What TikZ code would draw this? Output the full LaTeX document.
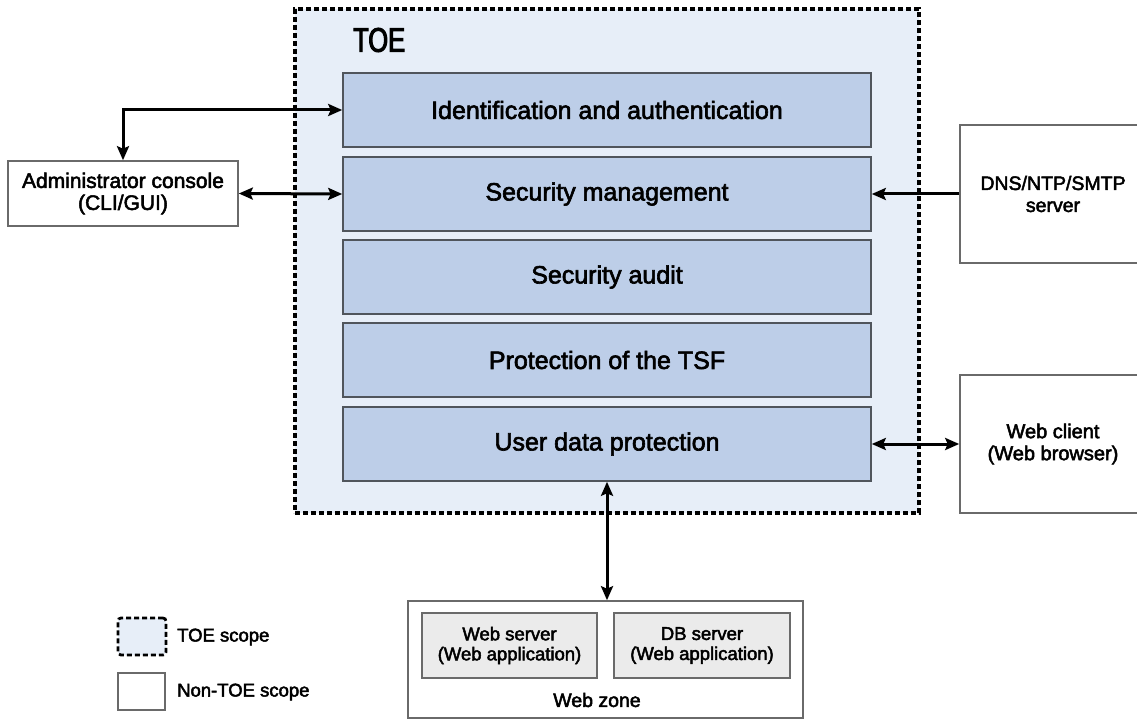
\documentclass[tikz,border=0pt]{standalone}
\usepackage{fontspec}
\setmainfont{Liberation Sans}[FakeBold=2.5]
\newfontfamily\condfont{Liberation Sans}[FakeStretch=0.75,FakeBold=3]
\usetikzlibrary{arrows.meta}
\definecolor{toebg}{HTML}{E7EEF8}
\definecolor{funcfill}{HTML}{BDCEE8}
\definecolor{funcborder}{HTML}{50555C}
\definecolor{extborder}{HTML}{6A6A6A}
\definecolor{srvfill}{HTML}{EBEBEB}
\begin{document}
\begin{tikzpicture}[x=1pt,y=-1pt,
  toebox/.style={draw=black, line width=3.2pt, dash pattern=on 5pt off 3pt, fill=toebg, inner sep=0pt},
  func/.style={draw=funcborder, line width=1.6pt, fill=funcfill, minimum width=528pt, minimum height=74pt, inner sep=0pt, font=\fontsize{25}{28}\selectfont},
  ext/.style={draw=extborder, line width=1.6pt, fill=white, inner sep=0pt, align=center, font=\fontsize{21}{22}\selectfont},
  srv/.style={draw=extborder, line width=1.6pt, fill=srvfill, inner sep=0pt, align=center, font=\fontsize{18.5}{20}\selectfont, minimum height=65pt},
  lbl/.style={inner sep=0pt, font=\fontsize{18.5}{20}\selectfont, anchor=west},
  tip/.tip={Stealth[length=14pt,width=12pt,inset=2.5pt]},
  arr/.style={line width=3pt, draw=black}
]
\useasboundingbox (0,0) rectangle (1137,719);
\clip (0,0) rectangle (1137,719);
\fill[white] (0,0) rectangle (1137,719);

% TOE scope
\node[toebox, minimum width=624pt, minimum height=504pt] (toe) at (607,261) {};
\node[inner sep=0pt, anchor=west, font=\condfont\fontsize{34}{36}\selectfont] (toelabel) at (353,40) {TOE};

% functions
\node[func] (ia)  at (607,110) {Identification and authentication};
\node[func] (sm)  at (607,194) {Security management};
\node[func] (sa)  at (607,277) {Security audit};
\node[func] (pt)  at (607,360) {Protection of the TSF};
\node[func] (udp) at (607,444) {User data protection};

% external entities
\node[ext, minimum width=230pt, minimum height=65pt] (admin) at (123,193.5) {Administrator console\\(CLI/GUI)};
\node[ext, minimum width=186pt, minimum height=138pt, font=\fontsize{19.5}{22}\selectfont] (dns) at (1053,194) {DNS/NTP/SMTP\\server};
\node[ext, minimum width=186pt, minimum height=138pt, font=\fontsize{20}{22}\selectfont] (client) at (1053,444) {Web client\\(Web browser)};

% web zone
\node[ext, minimum width=395pt, minimum height=117pt] (zone) at (605.5,659.5) {};
\node[srv, minimum width=175pt] (websrv) at (509.5,645.5) {Web server\\(Web application)};
\node[srv, minimum width=176pt] (dbsrv) at (702,645.5) {DB server\\(Web application)};
\node[inner sep=0pt, font=\fontsize{19.5}{22}\selectfont] (zonelabel) at (597,700) {Web zone};

% connectors
\draw[arr, tip-tip] (admin.north) |- (ia.west);
\draw[arr, tip-tip] (admin.east) -- (sm.west);
\draw[arr, -tip] (dns.west) -- (sm.east);
\draw[arr, tip-tip] (udp.east) -- (client.west);
\draw[arr, tip-tip] (udp.south) -- (udp.south |- zone.north);

% legend
\node[toebox, line width=2.8pt, rounded corners=3pt, minimum width=48pt, minimum height=37pt] (legtoe) at (142,636.5) {};
\node[lbl] (legtoetext) at (177,637) {TOE scope};
\node[draw=extborder, line width=1.6pt, fill=white, minimum width=47pt, minimum height=37pt, inner sep=0pt] (legnon) at (141.5,691.5) {};
\node[lbl] (legnontext) at (177,692) {Non-TOE scope};
\end{tikzpicture}
\end{document}
